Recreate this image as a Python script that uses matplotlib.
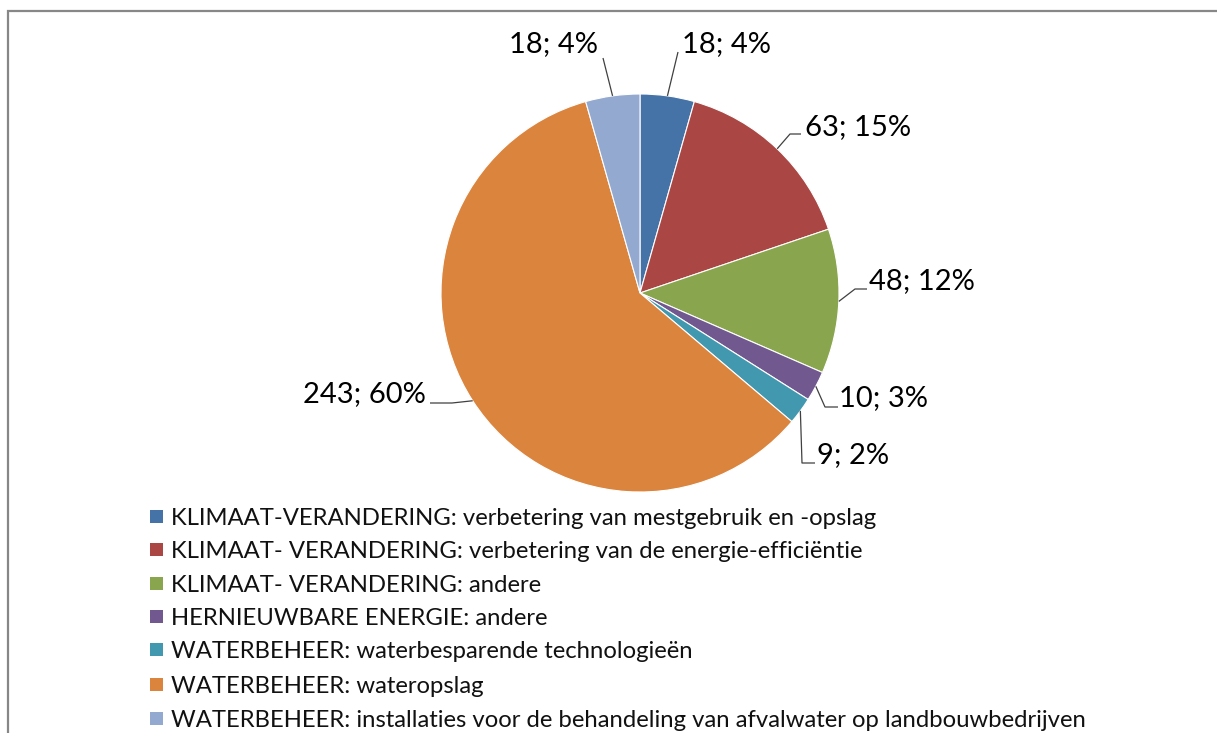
import numpy as np
import matplotlib
matplotlib.use("Agg")
import matplotlib.pyplot as plt
from matplotlib.patches import Rectangle

plt.rcParams['font.family'] = ['Lato', 'DejaVu Sans']

# Data
categories = [
    "KLIMAAT-VERANDERING: verbetering van mestgebruik en -opslag",
    "KLIMAAT- VERANDERING: verbetering van de energie-efficiëntie",
    "KLIMAAT- VERANDERING: andere",
    "HERNIEUWBARE ENERGIE: andere",
    "WATERBEHEER: waterbesparende technologieën",
    "WATERBEHEER: wateropslag",
    "WATERBEHEER: installaties voor de behandeling van afvalwater op landbouwbedrijven",
]
counts = [18, 63, 48, 10, 9, 243, 18]
percent_labels = ["4%", "15%", "12%", "3%", "2%", "60%", "4%"]
colors = ["#4572A7", "#AA4643", "#89A54E", "#71588F", "#4198AF", "#DB843D", "#93A9CF"]

W, H = 1217, 733
fig = plt.figure(figsize=(W / 100, H / 100), dpi=100)
ax = fig.add_axes([0, 0, 1, 1])


def py(y):
    """Convert a top-down pixel row into the axes' bottom-up y."""
    return H - y


cx, cy, r = 640, py(293), 199
wedges, _ = ax.pie(counts, colors=colors, startangle=90, counterclock=False,
                   center=(cx, cy), radius=r,
                   wedgeprops=dict(edgecolor="white", linewidth=0.8))
ax.set_xlim(0, W)
ax.set_ylim(0, H)
ax.set_aspect("equal")
ax.axis("off")

# Label layout: (text x, baseline y, alignment, leader elbow point or None, leader end point)
label_layout = [
    (682, 52, "left", None, (678, 52)),
    (805, 135, "left", (790, 134), (801, 134)),
    (869, 289, "left", (855, 289), (867, 289)),
    (839, 406, "left", (825, 407), (838, 407)),
    (817, 463, "left", (802, 463), (815, 463)),
    (426, 402, "right", (452, 403), (430, 403)),
    (598, 52, "right", None, (603, 58)),
]

total = sum(counts)
start = 0.0
for v, pct, (tx, ty, ha, elbow, end) in zip(counts, percent_labels, label_layout):
    mid = (start + v / 2) / total * 2 * np.pi
    start += v
    ex = cx + r * np.sin(mid)
    ey = cy + r * np.cos(mid)
    xs, ys = [ex], [ey]
    if elbow is not None:
        xs.append(elbow[0]); ys.append(py(elbow[1]))
    xs.append(end[0]); ys.append(py(end[1]))
    ax.plot(xs, ys, color="#404040", lw=0.9, solid_capstyle="butt")
    ax.text(tx, py(ty), f"{v}; {pct}", ha=ha, va="baseline",
            fontsize=21, color="black")

# Legend rows
row_base = [525, 558, 592, 625, 658, 693, 727]
for col, lab, yb in zip(colors, categories, row_base):
    ax.add_patch(Rectangle((150, py(yb - 2)), 13, 13, facecolor=col,
                           edgecolor="none"))
    ax.text(171, py(yb), lab, ha="left", va="baseline", fontsize=17.2,
            color="#111111")

# Chart frame (left and top edges)
ax.plot([8, 8, W + 5], [-5, py(11), py(11)], color="#878787", lw=1.6,
        solid_joinstyle="miter")

fig.savefig("out.png", dpi=100)
